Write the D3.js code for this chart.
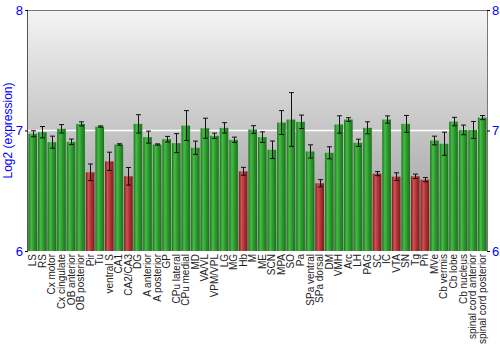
<!DOCTYPE html>
<html>
<head>
<meta charset="utf-8">
<script src="https://cdn.jsdelivr.net/npm/d3@7"></script>
<style>
  html, body { margin: 0; padding: 0; background: #fff; }
  svg { display: block; }
  text { font-family: "Liberation Sans", Arial, sans-serif; }
</style>
</head>
<body>
<svg id="chart" width="500" height="350"></svg>
<script>
// Regions sampled
const regions = ["LS", "RS", "Cx motor", "Cx cingulate", "OB anterior", "OB posterior", "Pir", "Tu",
  "ventral S", "CA1", "CA2/CA3", "DG", "A anterior", "A posterior", "GP", "CPu lateral", "CPu medial",
  "MD", "VA/VL", "VPM/VPL", "LG", "MG", "Hb", "M", "ME", "SCN", "MPA", "SO", "Pa", "SPa ventral",
  "SPa dorsal", "DM", "VMH", "Arc", "LH", "PAG", "SC", "IC", "VTA", "SN", "Tg", "Pn", "MVe",
  "Cb vermis", "Cb lobe", "Cb nucleus", "spinal cord anterior", "spinal cord posterior"];

// Mean log2 expression per region
const expression = [6.973, 6.986, 6.903, 7.014, 6.906, 7.055, 6.653, 7.033,
  6.744, 6.884, 6.620, 7.055, 6.945, 6.884, 6.928, 6.895, 7.041,
  6.857, 7.019, 6.956, 7.022, 6.923, 6.661, 7.008, 6.945, 6.840, 7.066, 7.091, 7.072, 6.826,
  6.562, 6.815, 7.050, 7.091, 6.898, 7.022, 6.642, 7.091, 6.617, 7.055, 6.620, 6.592, 6.917,
  6.890, 7.074, 7.005, 7.005, 7.107];

// Standard error per region
const stdError = [0.025, 0.047, 0.050, 0.035, 0.023, 0.017, 0.069, 0.005,
  0.076, 0.006, 0.073, 0.076, 0.050, 0.005, 0.023, 0.079, 0.124,
  0.055, 0.083, 0.022, 0.043, 0.022, 0.033, 0.032, 0.044, 0.073, 0.099, 0.223, 0.056, 0.055,
  0.030, 0.050, 0.072, 0.015, 0.030, 0.050, 0.017, 0.030, 0.032, 0.070, 0.018, 0.018, 0.036,
  0.096, 0.035, 0.040, 0.070, 0.017];

// Low-expression regions are drawn in red
const lowRegions = ["Pir", "ventral S", "CA2/CA3", "Hb", "SPa dorsal", "SC", "VTA", "Tg", "Pn"];

const yTicks = [6, 7, 8];

const svg = d3.select("#chart");
const margin = { left: 28, right: 13, top: 10, bottom: 99 };
const W = 500, H = 350;
const x0 = margin.left, x1 = W - margin.right;
const y0 = H - margin.bottom, y1 = margin.top;

const x = d3.scaleBand().domain(regions).range([x0, x1]).paddingInner(0.1).paddingOuter(0.05);
const y = d3.scaleLinear().domain([6, 8]).range([y0, y1]);

const defs = svg.append("defs");
const bg = defs.append("linearGradient").attr("id", "bg").attr("x1", 0).attr("y1", 0).attr("x2", 0).attr("y2", 1);
bg.append("stop").attr("offset", "0%").attr("stop-color", "#f4f4f4");
bg.append("stop").attr("offset", "100%").attr("stop-color", "#969696");

function barGradient(id, dark, light, mid) {
  const g = defs.append("linearGradient").attr("id", id).attr("x1", 0).attr("y1", 0).attr("x2", 1).attr("y2", 0);
  g.append("stop").attr("offset", "0%").attr("stop-color", dark);
  g.append("stop").attr("offset", "30%").attr("stop-color", light);
  g.append("stop").attr("offset", "60%").attr("stop-color", mid);
  g.append("stop").attr("offset", "100%").attr("stop-color", dark);
}
barGradient("gGreen", "#1c701c", "#45bd45", "#2d9a2d");
barGradient("gRed", "#7a1c1c", "#d05252", "#b03434");

// plot background
svg.append("rect").attr("x", x0).attr("y", y1).attr("width", x1 - x0).attr("height", y0 - y1)
  .attr("fill", "url(#bg)");

// gridline at 7
svg.append("line").attr("x1", x0).attr("x2", x1).attr("y1", y(7)).attr("y2", y(7))
  .attr("stroke", "#ffffff").attr("stroke-width", 1.5);

// frame
svg.append("line").attr("x1", x0).attr("x2", x1).attr("y1", y1 + 0.5).attr("y2", y1 + 0.5).attr("stroke", "#777");
svg.append("line").attr("x1", x1 + 0.5).attr("x2", x1 + 0.5).attr("y1", y1).attr("y2", y0).attr("stroke", "#777");
svg.append("line").attr("x1", x0 - 0.5).attr("x2", x0 - 0.5).attr("y1", y1).attr("y2", y0).attr("stroke", "#555");

const data = regions.map((r, i) => ({ r, v: expression[i], e: stdError[i], low: lowRegions.includes(r) }));

// bars
svg.append("g").selectAll("rect").data(data).join("rect")
  .attr("x", d => x(d.r))
  .attr("width", x.bandwidth())
  .attr("y", d => y(d.v))
  .attr("height", d => y(6) - y(d.v))
  .attr("fill", d => d.low ? "url(#gRed)" : "url(#gGreen)");

// error bars
const eb = svg.append("g").attr("stroke", "#111").attr("stroke-width", 1);
data.forEach(d => {
  const cx = Math.round(x(d.r) + x.bandwidth() / 2) + 0.5;
  const top = y(d.v + d.e), bot = y(d.v - d.e);
  eb.append("line").attr("x1", cx).attr("x2", cx).attr("y1", top).attr("y2", bot);
  eb.append("line").attr("x1", cx - 2.5).attr("x2", cx + 2.5).attr("y1", top).attr("y2", top);
  eb.append("line").attr("x1", cx - 2.5).attr("x2", cx + 2.5).attr("y1", bot).attr("y2", bot);
});

// y axes on both sides
const leftAxis = d3.axisLeft(y).tickValues(yTicks).tickFormat(d3.format("d")).tickSize(3).tickPadding(2);
const rightAxis = d3.axisRight(y).tickValues(yTicks).tickFormat(d3.format("d")).tickSize(3).tickPadding(2);
[svg.append("g").attr("transform", `translate(${x0},0)`).call(leftAxis),
 svg.append("g").attr("transform", `translate(${x1},0)`).call(rightAxis)].forEach(g => {
  g.select(".domain").remove();
  g.selectAll(".tick line").attr("stroke", "#000");
  g.selectAll(".tick text").attr("fill", "#0000ff").style("font-size", "13px")
    .style("font-family", "'Liberation Sans', Arial, sans-serif");
});

// region labels
svg.append("g").selectAll("text").data(data).join("text")
  .attr("transform", d => `translate(${x(d.r) + x.bandwidth() / 2 + 3.5},${y0 + 3}) rotate(-90)`)
  .attr("text-anchor", "end")
  .attr("fill", "#222")
  .style("font-size", "10px")
  .text(d => d.r);

// y title
svg.append("text")
  .attr("transform", `translate(12,${(y0 + y1) / 2}) rotate(-90)`)
  .attr("text-anchor", "middle")
  .attr("fill", "#0000ff")
  .style("font-size", "12px")
  .text("Log2 (expression)");
</script>
</body>
</html>
